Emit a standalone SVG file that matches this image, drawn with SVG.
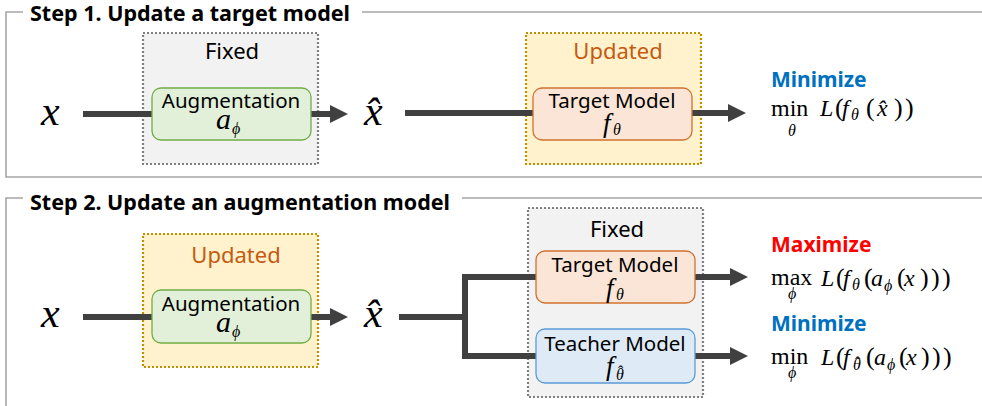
<svg xmlns="http://www.w3.org/2000/svg" width="982" height="406" viewBox="0 0 982 406">
<style>
.frame{fill:none;stroke:#a6a6a6;stroke-width:1.6}
.title{font-family:"Noto Sans","Open Sans",sans-serif;font-weight:bold;font-size:21px;fill:#000}
.lbl{font-family:"Noto Sans","Open Sans",sans-serif;font-size:20.5px;fill:#000;text-anchor:middle}
.hdr{font-family:"Noto Sans","Open Sans",sans-serif;font-size:22px;fill:#000;text-anchor:middle}
.upd{fill:#c55a11}
.fixbox{fill:#f2f2f2;stroke:#7f7f7f;stroke-width:2.2;stroke-dasharray:2 2}
.updbox{fill:#fff2cc;stroke:#bf9000;stroke-width:2.2;stroke-dasharray:2 2}
.aug{fill:#e2f0d9;stroke:#70ad47;stroke-width:1.3}
.tgt{fill:#fbe5d6;stroke:#d0712f;stroke-width:1.3}
.tch{fill:#deebf7;stroke:#5b9bd5;stroke-width:1.3}
.math{font-family:"Liberation Serif","DejaVu Serif",serif;font-size:24px;fill:#000}
.i{font-style:italic}
.s{font-style:italic;font-size:16px}
.p{font-size:26px}
.big{font-family:"Liberation Serif","DejaVu Serif",serif;font-style:italic;font-size:42px;fill:#000}
.goal{font-family:"Noto Sans","Open Sans",sans-serif;font-weight:bold;font-size:21px}
.conn{fill:none;stroke:#404040;stroke-width:6}
</style>
<defs>
<marker id="ah" markerUnits="userSpaceOnUse" markerWidth="19" markerHeight="19" refX="0" refY="9" orient="auto">
<path d="M0,0 L18,9 L0,18 z" fill="#404040"/>
</marker>
</defs>

<!-- frames -->
<g id="frame1">
<path class="frame" d="M23,12 H6 V177 H982 M362,12 H982"/>
<text class="title" x="30" y="21" textLength="320" lengthAdjust="spacingAndGlyphs">Step 1. Update a target model</text>
</g>
<g id="frame2">
<path class="frame" d="M23,198 H6 V406 M462,198 H982"/>
<text class="title" x="30" y="210" textLength="420" lengthAdjust="spacingAndGlyphs">Step 2. Update an augmentation model</text>
</g>

<!-- containers -->
<g id="fixed1">
<rect class="fixbox" x="143" y="33" width="175" height="131"/>
<text class="hdr" x="232" y="59">Fixed</text>
</g>
<g id="updated1">
<rect class="updbox" x="526" y="33" width="175" height="131"/>
<text class="hdr upd" x="618" y="59">Updated</text>
</g>
<g id="updated2">
<rect class="updbox" x="143" y="234" width="175" height="133"/>
<text class="hdr upd" x="236" y="263">Updated</text>
</g>
<g id="fixed2">
<rect class="fixbox" x="528" y="208" width="175" height="189"/>
<text class="hdr" x="617" y="237">Fixed</text>
</g>

<!-- connectors -->
<g id="connectors">
<path class="conn" d="M83,114 H152"/>
<path class="conn" d="M311,114 H330" marker-end="url(#ah)"/>
<path class="conn" d="M405,113 H533"/>
<path class="conn" d="M692,113 H728" marker-end="url(#ah)"/>
<path class="conn" d="M83,317 H152"/>
<path class="conn" d="M311,317 H330" marker-end="url(#ah)"/>
<path class="conn" d="M399,317 H465"/>
<path class="conn" d="M536,277 H465 V356 H536"/>
<path class="conn" d="M695,277 H730" marker-end="url(#ah)"/>
<path class="conn" d="M695,356 H730" marker-end="url(#ah)"/>
</g>

<!-- step 1 nodes -->
<g id="x1">
<text class="big" x="41" y="125">x</text>
</g>
<g id="aug1">
<rect class="aug" x="152" y="88" width="159" height="52" rx="9"/>
<text class="lbl" x="231" y="108">Augmentation</text>
<text class="math"><tspan class="i" x="216" y="129" font-size="30">a</tspan><tspan class="s" x="232" y="134" font-size="22">ϕ</tspan></text>
</g>
<g id="xhat1">
<text class="big" x="364" y="125">x&#x302;</text>
</g>
<g id="target1">
<rect class="tgt" x="533" y="88" width="159" height="52" rx="9"/>
<text class="lbl" x="612" y="108">Target Model</text>
<text class="math"><tspan class="i" x="603" y="132" font-size="27">f</tspan><tspan class="s" x="613" y="135" font-size="17">θ</tspan></text>
</g>
<g id="goal1">
<text class="goal" x="771" y="87" fill="#0070c0">Minimize</text>
<text class="math"><tspan x="771" y="116">min</tspan><tspan class="s" x="788" y="136">θ</tspan><tspan class="i" x="820" y="116">L</tspan><tspan class="p" x="835" y="116">(</tspan><tspan class="i" x="842" y="116">f</tspan><tspan class="s" x="851" y="120">θ</tspan><tspan class="p" x="866" y="116">(</tspan><tspan class="i" x="877" y="116">x&#x302;</tspan><tspan class="p" x="894" y="116">)</tspan><tspan class="p" x="905" y="116">)</tspan></text>
</g>

<!-- step 2 nodes -->
<g id="x2">
<text class="big" x="41" y="327">x</text>
</g>
<g id="aug2">
<rect class="aug" x="152" y="290" width="159" height="53" rx="9"/>
<text class="lbl" x="231" y="311">Augmentation</text>
<text class="math"><tspan class="i" x="216" y="332" font-size="30">a</tspan><tspan class="s" x="232" y="337" font-size="22">ϕ</tspan></text>
</g>
<g id="xhat2">
<text class="big" x="364" y="327">x&#x302;</text>
</g>
<g id="target2">
<rect class="tgt" x="536" y="251" width="159" height="52" rx="9"/>
<text class="lbl" x="615" y="272">Target Model</text>
<text class="math"><tspan class="i" x="606" y="297" font-size="27">f</tspan><tspan class="s" x="616" y="300" font-size="17">θ</tspan></text>
</g>
<g id="teacher2">
<rect class="tch" x="536" y="329" width="159" height="54" rx="9"/>
<text class="lbl" x="615" y="351">Teacher Model</text>
<text class="math"><tspan class="i" x="606" y="375" font-size="27">f</tspan><tspan class="s" x="616" y="380" font-size="17">θ</tspan><tspan x="618" y="377" font-size="16">ˆ</tspan></text>
</g>
<g id="goal2">
<text class="goal" x="771" y="252" fill="#ff0000">Maximize</text>
<text class="math"><tspan x="771" y="285">max</tspan><tspan class="s" x="788" y="299">ϕ</tspan><tspan class="i" x="821" y="286">L</tspan><tspan class="p" x="836" y="286">(</tspan><tspan class="i" x="843" y="286">f</tspan><tspan class="s" x="852" y="290">θ</tspan><tspan class="p" x="864" y="286">(</tspan><tspan class="i" x="871" y="286">a</tspan><tspan class="s" x="884" y="291">ϕ</tspan><tspan class="p" x="897" y="286">(</tspan><tspan class="i" x="904" y="286">x</tspan><tspan class="p" x="920" y="286">)</tspan><tspan class="p" x="931" y="286">)</tspan><tspan class="p" x="942" y="286">)</tspan></text>
</g>
<g id="goal3">
<text class="goal" x="771" y="331" fill="#0070c0">Minimize</text>
<text class="math"><tspan x="771" y="364">min</tspan><tspan class="s" x="788" y="378">ϕ</tspan><tspan class="i" x="821" y="365">L</tspan><tspan class="p" x="836" y="365">(</tspan><tspan class="i" x="843" y="365">f</tspan><tspan class="s" x="853" y="370">θ</tspan><tspan x="855" y="368" font-size="16">ˆ</tspan><tspan class="p" x="866" y="365">(</tspan><tspan class="i" x="874" y="365">a</tspan><tspan class="s" x="887" y="370">ϕ</tspan><tspan class="p" x="899" y="365">(</tspan><tspan class="i" x="906" y="365">x</tspan><tspan class="p" x="921" y="365">)</tspan><tspan class="p" x="932" y="365">)</tspan><tspan class="p" x="943" y="365">)</tspan></text>
</g>
</svg>
